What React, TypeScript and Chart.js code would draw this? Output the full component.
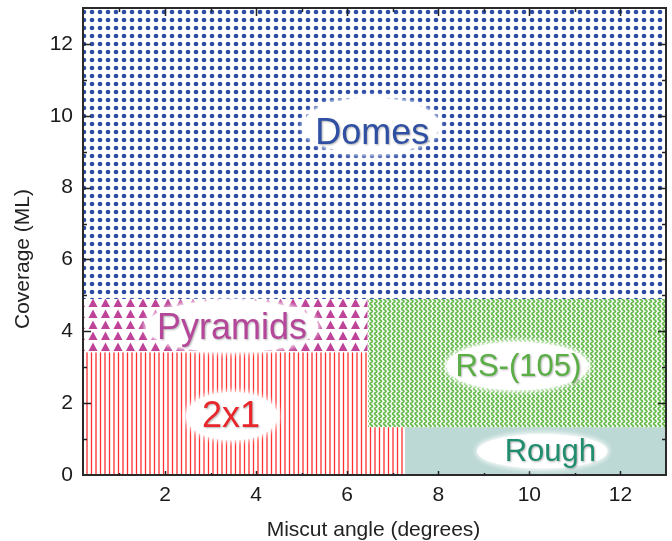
import React, { useEffect, useRef } from 'react';
import { Chart, registerables } from 'chart.js';
Chart.register(...registerables);

// ---- axes ----
const xMin = 0.2;
const xMax = 13;
const yMin = 0;
const yMax = 13;
const xTickValues = [2, 4, 6, 8, 10, 12];
const yTickValues = [0, 2, 4, 6, 8, 10, 12];
const xTitle = 'Miscut angle (degrees)';
const yTitle = 'Coverage (ML)';

// ---- phase boundaries (data units) ----
const domesBoundaryX = [0.2, 13];
const domesBoundaryY = [13, 13];
const domesFloor = 4.9;

const pyramidsBoundaryX = [0.2, 6.45];
const pyramidsBoundaryY = [4.9, 4.9];
const pyramidsFloor = 3.42;

const twoByOneBoundaryX = [0.2, 6.45, 6.45, 7.27];
const twoByOneBoundaryY = [3.42, 3.42, 1.33, 1.33];
const twoByOneFloor = 0;

const rsBoundaryX = [6.45, 13];
const rsBoundaryY = [4.9, 4.9];
const rsFloor = 1.33;

const roughBoundaryX = [7.27, 13];
const roughBoundaryY = [1.33, 1.33];
const roughFloor = 0;

// ---- labels ----
const labelNames = ['Domes', 'Pyramids', '2x1', 'RS-(105)', 'Rough'];
const labelX = [6.55, 3.47, 3.45, 9.76, 10.46];
const labelY = [9.58, 4.14, 1.69, 3.06, 0.69];

// styles (pixels / colours)
const labelStyle = [
  { color: '#2f4fa3', size: 36, rx: 68, ry: 28, dx: -1, dy: -5 },
  { color: '#b5479a', size: 36, rx: 86, ry: 26, dx: 0, dy: 0 },
  { color: '#e8262b', size: 36, rx: 46, ry: 24, dx: 1, dy: 2 },
  { color: '#5aae45', size: 31, rx: 71, ry: 24, dx: -1, dy: 1 },
  { color: '#1f8d6e', size: 31, rx: 65, ry: 17, dx: -8, dy: 1 },
];

const FONT = '"Liberation Sans", Arial, Helvetica, sans-serif';

function tile(w: number, h: number, draw: (g: CanvasRenderingContext2D) => void) {
  const c = document.createElement('canvas');
  c.width = w;
  c.height = h;
  const g = c.getContext('2d')!;
  g.fillStyle = '#ffffff';
  g.fillRect(0, 0, w, h);
  draw(g);
  return c;
}

function makePatterns(ctx: CanvasRenderingContext2D) {
  const dots = tile(8, 8, (g) => {
    g.fillStyle = '#2c4ca6';
    g.beginPath();
    g.arc(4, 4, 2.3, 0, Math.PI * 2);
    g.fill();
  });
  const tri = tile(25, 11, (g) => {
    g.fillStyle = '#bf4399';
    for (const ox of [1, 13.5]) {
      g.beginPath();
      g.moveTo(ox, 10);
      g.lineTo(ox + 9, 10);
      g.lineTo(ox + 4.5, 1.5);
      g.closePath();
      g.fill();
    }
  });
  const lines = tile(9, 4, (g) => {
    g.strokeStyle = '#ff3030';
    g.lineWidth = 1.3;
    for (const lx of [1.5, 6]) {
      g.beginPath();
      g.moveTo(lx, 0);
      g.lineTo(lx, 4);
      g.stroke();
    }
  });
  const wave = tile(9, 10, (g) => {
    g.strokeStyle = '#66bb4c';
    g.lineWidth = 1.6;
    for (const cx of [2.25, 6.75]) {
      g.beginPath();
      for (let y = -1; y <= 11; y += 0.25) {
        const x = cx + 1.3 * Math.sin((2 * Math.PI * y) / 5);
        if (y === -1) g.moveTo(x, y);
        else g.lineTo(x, y);
      }
      g.stroke();
    }
  });
  return {
    dots: ctx.createPattern(dots, 'repeat')!,
    tri: ctx.createPattern(tri, 'repeat')!,
    lines: ctx.createPattern(lines, 'repeat')!,
    wave: ctx.createPattern(wave, 'repeat')!,
  };
}

function pts(xs: number[], ys: number[]) {
  return xs.map((x, i) => ({ x, y: ys[i] }));
}

const decorPlugin = {
  id: 'decor',
  afterDatasetsDraw(chart: any) {
    const { ctx, chartArea: a, scales } = chart;
    const xs = scales.x;
    const ys = scales.y;
    ctx.save();
    // frame
    ctx.strokeStyle = '#2a2a2a';
    ctx.lineWidth = 2;
    ctx.strokeRect(a.left, a.top, a.right - a.left, a.bottom - a.top);
    // ticks
    ctx.lineWidth = 1.5;
    ctx.strokeStyle = '#222';
    ctx.beginPath();
    for (let v = 1; v <= 13; v++) {
      const maj = v % 2 === 0;
      const px = Math.round(xs.getPixelForValue(v)) + 0.5;
      if (px > a.left + 1 && px < a.right - 1) {
        const L = maj ? 8 : 4;
        ctx.moveTo(px, a.top);
        ctx.lineTo(px, a.top + L);
        ctx.moveTo(px, a.bottom);
        ctx.lineTo(px, a.bottom - (maj ? 4 : 2));
      }
    }
    for (let v = 1; v <= 12; v++) {
      const maj = v % 2 === 0;
      const py = Math.round(ys.getPixelForValue(v)) + 0.5;
      const L = maj ? 8 : 4;
      ctx.moveTo(a.left, py);
      ctx.lineTo(a.left + L, py);
      ctx.moveTo(a.right, py);
      ctx.lineTo(a.right - L, py);
    }
    ctx.stroke();

    // axis titles
    ctx.fillStyle = '#222';
    ctx.font = `21px ${FONT}`;
    ctx.textAlign = 'center';
    ctx.textBaseline = 'middle';
    ctx.fillText(xTitle, (a.left + a.right) / 2 - 1, 530);
    ctx.save();
    ctx.translate(23, 259);
    ctx.rotate(-Math.PI / 2);
    ctx.fillText(yTitle, 0, 0);
    ctx.restore();

    // labels
    labelNames.forEach((name, i) => {
      const st = labelStyle[i];
      const cx = xs.getPixelForValue(labelX[i]);
      const cy = ys.getPixelForValue(labelY[i]);
      ctx.save();
      ctx.fillStyle = '#ffffff';
      ctx.shadowColor = 'rgba(255,255,255,1)';
      ctx.shadowBlur = 6;
      ctx.beginPath();
      ctx.ellipse(cx + st.dx, cy + st.dy, st.rx, st.ry, 0, 0, Math.PI * 2);
      ctx.fill();
      ctx.fill();
      ctx.restore();
      ctx.save();
      ctx.font = `${st.size}px ${FONT}`;
      ctx.textAlign = 'center';
      ctx.textBaseline = 'alphabetic';
      ctx.shadowColor = 'rgba(0,0,0,0.3)';
      ctx.shadowOffsetX = 1;
      ctx.shadowOffsetY = 1;
      ctx.shadowBlur = 2;
      ctx.fillStyle = st.color;
      ctx.fillText(name, cx, cy + st.size * 0.716 / 2);
      ctx.restore();
    });
    ctx.restore();
  },
};

export default function App() {
  const ref = useRef<HTMLCanvasElement | null>(null);
  useEffect(() => {
    const canvas = ref.current!;
    const ctx = canvas.getContext('2d')!;
    const p = makePatterns(ctx);
    const base = {
      showLine: true,
      borderWidth: 0,
      borderColor: 'rgba(0,0,0,0)',
      pointRadius: 0,
      pointHoverRadius: 0,
    };
    const chart = new Chart(canvas, {
      type: 'scatter',
      data: {
        datasets: [
          { ...base, label: 'Domes', data: pts(domesBoundaryX, domesBoundaryY), fill: { value: domesFloor }, backgroundColor: p.dots },
          { ...base, label: 'Pyramids', data: pts(pyramidsBoundaryX, pyramidsBoundaryY), fill: { value: pyramidsFloor }, backgroundColor: p.tri },
          { ...base, label: '2x1', data: pts(twoByOneBoundaryX, twoByOneBoundaryY), fill: { value: twoByOneFloor }, backgroundColor: p.lines },
          { ...base, label: 'RS-(105)', data: pts(rsBoundaryX, rsBoundaryY), fill: { value: rsFloor }, backgroundColor: p.wave },
          { ...base, label: 'Rough', data: pts(roughBoundaryX, roughBoundaryY), fill: { value: roughFloor }, backgroundColor: '#bcd9d5' },
        ] as any,
      },
      options: {
        responsive: false,
        animation: false,
        events: [],
        layout: { padding: { left: 0, right: 6, top: 8, bottom: 0 } },
        plugins: { legend: { display: false }, tooltip: { enabled: false } },
        scales: {
          x: {
            type: 'linear',
            min: xMin,
            max: xMax,
            afterBuildTicks: (s: any) => {
              s.ticks = xTickValues.map((v) => ({ value: v }));
            },
            afterFit: (s: any) => {
              s.height = 66;
              s.paddingLeft = 0;
              s.paddingRight = 0;
            },
            grid: { display: false, drawTicks: false },
            border: { display: false },
            ticks: { color: '#1a1a1a', font: { family: FONT, size: 21 }, padding: 8, maxRotation: 0 },
          },
          y: {
            type: 'linear',
            min: yMin,
            max: yMax,
            afterBuildTicks: (s: any) => {
              s.ticks = yTickValues.map((v) => ({ value: v }));
            },
            afterFit: (s: any) => {
              s.width = 83;
              s.paddingTop = 0;
              s.paddingBottom = 0;
            },
            grid: { display: false, drawTicks: false },
            border: { display: false },
            ticks: { color: '#1a1a1a', font: { family: FONT, size: 21 }, padding: 10 },
          },
        },
      } as any,
      plugins: [decorPlugin],
    });
    return () => chart.destroy();
  }, []);
  return (
    <div style={{ position: 'fixed', left: 0, top: 0, width: 672, height: 541, background: '#fff' }}>
      <canvas ref={ref} width={672} height={541} style={{ display: 'block' }} />
    </div>
  );
}
